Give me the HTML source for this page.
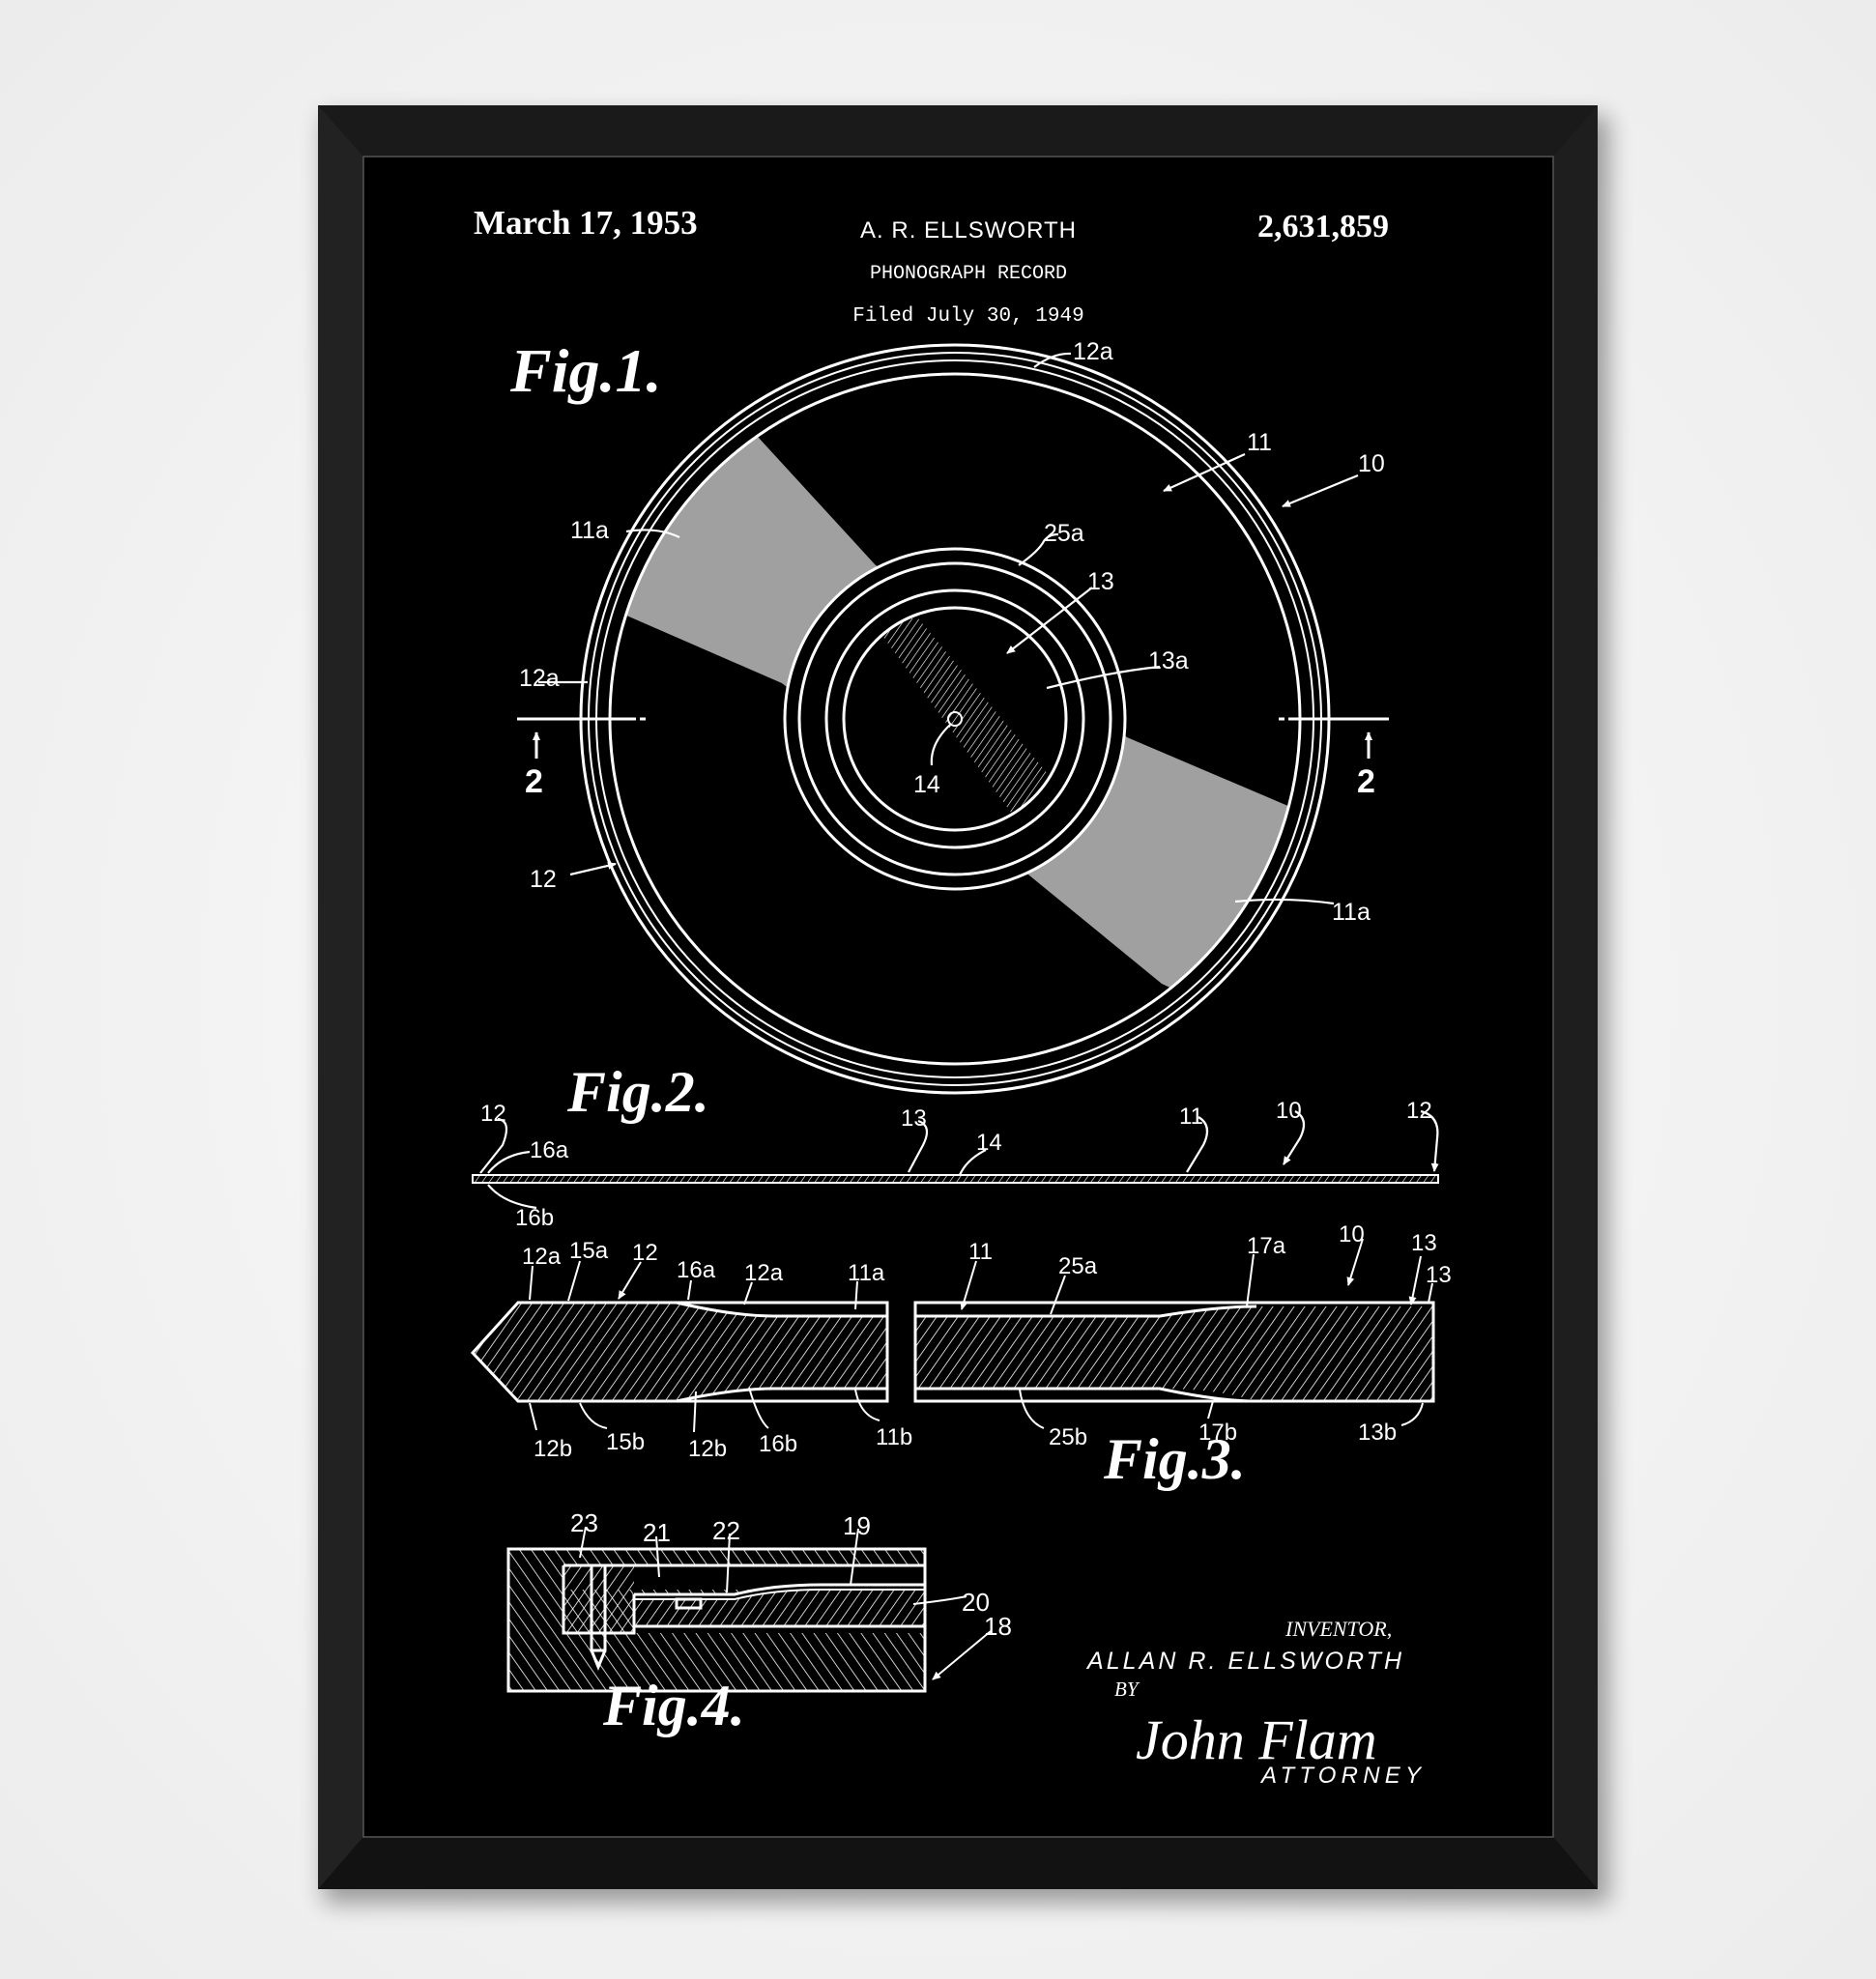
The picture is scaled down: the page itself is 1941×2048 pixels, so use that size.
<!DOCTYPE html>
<html><head><meta charset="utf-8"><style>
html,body{margin:0;padding:0;background:#f7f7f7;}
svg{display:block}
</style></head><body>
<svg width="1941" height="2048" viewBox="0 0 1941 2048" xmlns="http://www.w3.org/2000/svg">
<defs>
<radialGradient id="bg" cx="50%" cy="50%" r="70%"><stop offset="0" stop-color="#fbfbfb"/><stop offset="1" stop-color="#ececec"/></radialGradient>
<filter id="sh" x="-10%" y="-10%" width="120%" height="120%"><feGaussianBlur stdDeviation="12"/></filter>
<pattern id="h1" width="9" height="9" patternUnits="userSpaceOnUse" patternTransform="rotate(35)"><line x1="0" y1="0" x2="0" y2="9" stroke="#fff" stroke-width="1.6"/></pattern>
<pattern id="h2" width="10" height="10" patternUnits="userSpaceOnUse" patternTransform="rotate(-35)"><line x1="0" y1="0" x2="0" y2="10" stroke="#fff" stroke-width="1.6"/></pattern>
<pattern id="h3" width="6" height="6" patternUnits="userSpaceOnUse" patternTransform="rotate(35)"><line x1="0" y1="0" x2="0" y2="6" stroke="#fff" stroke-width="1.3"/></pattern>
<clipPath id="ann"><path fill-rule="evenodd" clip-rule="evenodd" d="M988,744 m-357,0 a357,357 0 1,0 714,0 a357,357 0 1,0 -714,0 Z M988,744 m-176,0 a176,176 0 1,1 352,0 a176,176 0 1,1 -352,0 Z"/></clipPath>
<clipPath id="inner"><circle cx="988" cy="744" r="115"/></clipPath>
<marker id="ar" markerWidth="10" markerHeight="10" refX="8" refY="5" orient="auto" markerUnits="userSpaceOnUse"><path d="M0,1 L9,5 L0,9 Z" fill="#fff"/></marker>
</defs>
<rect width="1941" height="2048" fill="url(#bg)"/>
<rect x="335" y="120" width="1330" height="1850" fill="#000" opacity="0.35" filter="url(#sh)"/>
<!-- frame -->
<rect x="329" y="109" width="1324" height="1846" fill="#161616"/>
<polygon points="329,109 1653,109 1607,162 376,162" fill="#1a1a1a"/>
<polygon points="329,109 376,162 376,1901 329,1955" fill="#222"/>
<polygon points="1653,109 1607,162 1607,1901 1653,1955" fill="#1e1e1e"/>
<polygon points="329,1955 376,1901 1607,1901 1653,1955" fill="#121212"/>
<rect x="376" y="162" width="1231" height="1739" fill="#000" stroke="#555" stroke-width="1.5"/>

<g fill="#fff">
<text x="490" y="242" font-family="Liberation Serif,serif" font-weight="bold" font-size="35">March 17, 1953</text>
<text x="1002" y="246" text-anchor="middle" font-family="Liberation Sans,sans-serif" font-size="24" letter-spacing="1">A. R. ELLSWORTH</text>
<text x="1002" y="288" text-anchor="middle" font-family="Liberation Mono,monospace" font-size="20">PHONOGRAPH RECORD</text>
<text x="1002" y="332" text-anchor="middle" font-family="Liberation Mono,monospace" font-size="21">Filed July 30, 1949</text>
<text x="1301" y="245" font-family="Liberation Serif,serif" font-weight="bold" font-size="34">2,631,859</text>
<g font-family="Liberation Serif,serif" font-style="italic" font-weight="bold">
<text x="528" y="405" font-size="64">Fig.1.</text>
<text x="587" y="1150" font-size="60">Fig.2.</text>
<text x="1142" y="1530" font-size="60">Fig.3.</text>
<text x="624" y="1785" font-size="60">Fig.4.</text>
</g>
</g>

<!-- Fig 1 disc -->
<g clip-path="url(#ann)">
<polygon points="700,380 784,452 906,585 1010,640 1166,763 1335,835 1420,860 1420,1120 1202,1018 1059,901 809,707 646,636 560,610 560,380" fill="#a0a0a0"/>
</g>
<g clip-path="url(#inner)">
<polygon points="900,640 950,640 1100,820 1060,860" fill="url(#h3)"/>
</g>
<g fill="none" stroke="#fff" stroke-width="3">
<circle cx="988" cy="744" r="387"/>
<circle cx="988" cy="744" r="379" stroke-width="2"/>
<circle cx="988" cy="744" r="371" stroke-width="2"/>
<circle cx="988" cy="744" r="357"/>
<circle cx="988" cy="744" r="176"/>
<circle cx="988" cy="744" r="161"/>
<circle cx="988" cy="744" r="133"/>
<circle cx="988" cy="744" r="115"/>
<circle cx="988" cy="744" r="7" stroke-width="2"/>
</g>
<!-- section lines -->
<g stroke="#fff" stroke-width="3" fill="none">
<line x1="535" y1="744" x2="658" y2="744"/><line x1="662" y1="744" x2="668" y2="744"/>
<line x1="1323" y1="744" x2="1329" y2="744"/><line x1="1333" y1="744" x2="1437" y2="744"/>
<line x1="555" y1="785" x2="555" y2="758" marker-end="url(#ar)"/>
<line x1="1416" y1="785" x2="1416" y2="758" marker-end="url(#ar)"/>
</g>
<g fill="#fff" font-family="Liberation Sans,sans-serif" font-weight="bold" font-size="34">
<text x="543" y="820">2</text><text x="1404" y="820">2</text>
</g>
<!-- fig1 leaders -->
<g stroke="#fff" stroke-width="2.2" fill="none">
<path d="M1070,380 Q1090,365 1108,366"/>
<line x1="1288" y1="470" x2="1204" y2="508" marker-end="url(#ar)"/>
<line x1="1405" y1="492" x2="1327" y2="524" marker-end="url(#ar)"/>
<path d="M648,550 Q680,545 703,556"/>
<path d="M1054,585 Q1075,570 1080,560 Q1085,553 1095,553"/>
<line x1="1130" y1="608" x2="1042" y2="676" marker-end="url(#ar)"/>
<path d="M1083,712 Q1150,695 1200,690"/>
<path d="M557,706 L608,706"/>
<path d="M964,792 Q962,770 983,750"/>
<line x1="590" y1="905" x2="637" y2="894" marker-end="url(#ar)"/>
<path d="M1278,933 Q1330,928 1380,935"/>
</g>
<g fill="#fff" font-family="Liberation Sans,sans-serif" font-size="25">
<text x="1110" y="372">12a</text>
<text x="1290" y="466">11</text>
<text x="1405" y="488">10</text>
<text x="590" y="557">11a</text>
<text x="1080" y="560">25a</text>
<text x="1125" y="610">13</text>
<text x="1188" y="692">13a</text>
<text x="537" y="710">12a</text>
<text x="945" y="820">14</text>
<text x="548" y="918">12</text>
<text x="1378" y="952">11a</text>
</g>

<!-- Fig 2 strip -->
<rect x="489" y="1216" width="999" height="8" fill="url(#h3)" stroke="#fff" stroke-width="2"/>
<g stroke="#fff" stroke-width="2.2" fill="none">
<path d="M515,1158 Q530,1160 520,1185 L497,1214"/>
<path d="M548,1192 Q520,1195 505,1214"/>
<path d="M555,1250 Q520,1245 505,1226"/>
<path d="M950,1160 Q965,1165 955,1185 L940,1213"/>
<path d="M1020,1190 Q1000,1200 993,1216"/>
<path d="M1240,1156 Q1255,1165 1245,1185 L1228,1213"/>
<path d="M1340,1150 Q1355,1158 1345,1178 L1328,1205" marker-end="url(#ar)"/>
<path d="M1470,1150 Q1490,1155 1487,1178 L1484,1212" marker-end="url(#ar)"/>
</g>
<g fill="#fff" font-family="Liberation Sans,sans-serif" font-size="24">
<text x="497" y="1160">12</text>
<text x="548" y="1198">16a</text>
<text x="533" y="1268">16b</text>
<text x="932" y="1165">13</text>
<text x="1010" y="1190">14</text>
<text x="1220" y="1163">11</text>
<text x="1320" y="1157">10</text>
<text x="1455" y="1157">12</text>
</g>

<!-- Fig 3 -->
<path d="M489,1400 L536,1348 L918,1348 L918,1450 L536,1450 Z" fill="#000"/>
<path d="M489,1400 L536,1348 L700,1348 Q760,1362 800,1362 L918,1362 L918,1437 L800,1437 Q760,1437 700,1450 L536,1450 Z" fill="url(#h1)"/>
<path d="M947,1362 L1200,1362 Q1260,1352 1300,1352 L1483,1352 L1483,1450 L1300,1450 Q1260,1437 1200,1437 L947,1437 Z" fill="url(#h1)"/>
<g stroke="#fff" stroke-width="3" fill="none">
<path d="M489,1400 L536,1348 L918,1348 L918,1450 L536,1450 Z"/>
<path d="M700,1348 Q760,1362 800,1362 L918,1362"/>
<path d="M700,1450 Q760,1437 800,1437 L918,1437"/>
<path d="M947,1348 L1483,1348 L1483,1450 L947,1450 Z"/>
<path d="M947,1362 L1200,1362 Q1260,1352 1300,1352"/>
<path d="M947,1437 L1200,1437 Q1260,1450 1300,1450"/>
</g>
<g stroke="#fff" stroke-width="2" fill="none">
<path d="M551,1310 L548,1345"/><path d="M600,1305 L588,1346"/><path d="M663,1306 L640,1344" marker-end="url(#ar)"/>
<path d="M715,1325 L712,1345"/><path d="M778,1327 L770,1350"/><path d="M887,1326 L885,1355"/>
<path d="M1010,1305 L995,1355" marker-end="url(#ar)"/><path d="M1102,1320 L1087,1360"/>
<path d="M1297,1298 L1290,1352"/><path d="M1410,1282 L1395,1330" marker-end="url(#ar)"/>
<path d="M1470,1300 L1460,1350" marker-end="url(#ar)"/><path d="M1482,1328 L1478,1348"/>
<path d="M548,1452 L555,1480"/><path d="M600,1452 Q610,1475 628,1478"/><path d="M720,1440 L718,1482"/>
<path d="M775,1436 Q785,1470 795,1478"/><path d="M885,1438 Q890,1465 910,1470"/>
<path d="M1055,1438 Q1060,1470 1080,1478"/><path d="M1255,1450 L1250,1468"/><path d="M1472,1452 Q1468,1470 1450,1475"/>
</g>
<g fill="#fff" font-family="Liberation Sans,sans-serif" font-size="24">
<text x="540" y="1308">12a</text><text x="589" y="1302">15a</text><text x="654" y="1304">12</text>
<text x="700" y="1322">16a</text><text x="770" y="1325">12a</text><text x="877" y="1325">11a</text>
<text x="1002" y="1303">11</text><text x="1095" y="1318">25a</text><text x="1290" y="1297">17a</text>
<text x="1385" y="1285">10</text><text x="1460" y="1294">13</text><text x="1475" y="1327">13</text>
<text x="552" y="1507">12b</text><text x="627" y="1500">15b</text><text x="712" y="1507">12b</text>
<text x="785" y="1502">16b</text><text x="906" y="1495">11b</text><text x="1085" y="1495">25b</text>
<text x="1240" y="1490">17b</text><text x="1405" y="1490">13b</text>
</g>

<!-- Fig 4 -->
<rect x="526" y="1603" width="431" height="147" fill="url(#h2)"/>
<rect x="583" y="1620" width="374" height="25" fill="#000"/>
<rect x="583" y="1620" width="73" height="70" fill="url(#h1)"/>
<path d="M656,1650 L760,1650 Q800,1640 850,1640 L957,1640 L957,1690 L656,1690 Z" fill="#000"/>
<path d="M656,1655 L760,1655 Q800,1645 850,1645 L957,1645 L957,1683 L656,1683 Z" fill="url(#h1)"/>
<g stroke="#fff" stroke-width="3" fill="none">
<rect x="526" y="1603" width="431" height="147"/>
<line x1="583" y1="1620" x2="957" y2="1620"/>
<path d="M656,1650 L760,1650 Q800,1640 850,1640 L957,1640"/>
<path d="M656,1655 L760,1655 Q800,1645 850,1645 L957,1645" stroke-width="2"/>
<line x1="656" y1="1683" x2="957" y2="1683"/>
<path d="M583,1620 L583,1690 L656,1690 L656,1650"/>
<rect x="612" y="1620" width="14" height="88"/>
<path d="M612,1708 L619,1725 L626,1708"/>
<rect x="700" y="1655" width="25" height="9"/>
</g>
<g stroke="#fff" stroke-width="2" fill="none">
<path d="M606,1580 L600,1612"/><path d="M679,1590 L682,1632"/><path d="M755,1587 L752,1648"/>
<path d="M888,1582 L880,1640"/><path d="M1000,1652 Q980,1656 945,1660"/><path d="M1025,1688 L965,1738" marker-end="url(#ar)"/>
</g>
<g fill="#fff" font-family="Liberation Sans,sans-serif" font-size="26">
<text x="590" y="1585">23</text><text x="665" y="1595">21</text><text x="737" y="1593">22</text>
<text x="872" y="1588">19</text><text x="995" y="1667">20</text><text x="1018" y="1692">18</text>
</g>

<!-- inventor block -->
<g fill="#fff">
<text x="1330" y="1693" font-family="Liberation Serif,serif" font-style="italic" font-size="22">INVENTOR,</text>
<text x="1125" y="1727" font-family="Liberation Sans,sans-serif" font-style="italic" font-size="25" textLength="325">ALLAN R. ELLSWORTH</text>
<text x="1153" y="1755" font-family="Liberation Serif,serif" font-style="italic" font-size="21">BY</text>
<text x="1175" y="1820" font-family="Liberation Serif,serif" font-style="italic" font-size="58">John Flam</text>
<text x="1305" y="1845" font-family="Liberation Sans,sans-serif" font-style="italic" font-size="24" textLength="165">ATTORNEY</text>
</g>
</svg>
</body></html>
